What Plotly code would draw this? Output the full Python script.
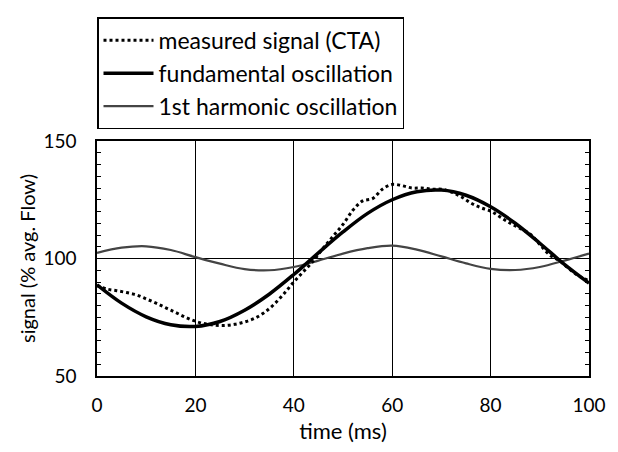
import plotly.graph_objects as go

# time axis (ms)
t_fit = [0, 5, 10, 15, 20, 25, 30, 35, 40, 45, 50, 55, 60, 65, 70, 75, 80, 85, 90, 95, 100]
fundamental = [88.8, 81.0, 75.2, 71.8, 71.1, 73.2, 78.0, 84.8, 93.2, 102.4, 111.3, 119.2, 125.0,
               128.4, 129.1, 126.9, 122.0, 115.0, 106.5, 97.5, 89.5]
harmonic = [102.4, 104.6, 105.2, 103.6, 100.6, 97.8, 95.5, 95.0, 96.4, 99.1, 102.1, 104.4, 105.5,
            103.8, 100.9, 97.9, 95.6, 95.1, 96.4, 99.1, 102.1]

t_meas = [0, 2, 4, 6, 8, 10, 12, 14, 16, 18, 20, 22, 24, 26, 28, 30, 32, 34, 36, 38, 40, 42, 44, 46,
          48, 50, 52, 54, 56, 58, 60, 62, 64, 66, 68, 70, 72, 74, 76, 78, 80, 82, 84, 86, 88, 90,
          92, 94, 96, 98, 100]
measured = [88.5, 87.0, 86.3, 85.5, 84.5, 82.8, 81.0, 79.0, 77.0, 75.0, 73.3, 72.2, 71.6, 71.5,
            72.0, 73.0, 74.5, 77.0, 80.5, 85.0, 90.0, 94.5, 99.0, 104.5, 109.5, 114.5, 120.5,
            124.5, 125.5, 129.5, 131.5, 131.0, 130.0, 130.0, 129.5, 129.5, 128.3, 126.3, 123.6,
            121.6, 120.2, 117.6, 115.0, 112.8, 110.5, 106.0, 101.5, 99.0, 95.5, 92.5, 90.5]

names = ["measured signal (CTA)", "fundamental oscillation", "1st harmonic oscillation"]
x_ticks = [0, 20, 40, 60, 80, 100]
y_ticks = [50, 100, 150]

FONT = "Lato"

fig = go.Figure()
fig.add_trace(go.Scatter(x=t_fit, y=harmonic, mode="lines", name=names[2], legendgroup="c",
                         line=dict(color="#444444", width=2.2, shape="spline"), legendrank=3))
fig.add_trace(go.Scatter(x=t_fit, y=fundamental, mode="lines", name=names[1], legendgroup="b",
                         line=dict(color="black", width=3.5, shape="spline"), legendrank=2))
fig.add_trace(go.Scatter(x=t_meas, y=measured, mode="lines", name=names[0], legendgroup="a",
                         line=dict(color="black", width=3, dash="dot", shape="spline"), legendrank=1))

fig.update_layout(
    width=618, height=452,
    margin=dict(l=97, r=21, t=141, b=62),
    paper_bgcolor="white", plot_bgcolor="white",
    font=dict(family=FONT, size=20, color="black"),
    showlegend=True,
    legend=dict(x=0, y=1.526, xanchor="left", yanchor="top", xref="paper", yref="paper",
                bordercolor="black", borderwidth=1.5, bgcolor="white",
                font=dict(family=FONT, size=23, color="black"),
                itemwidth=50, tracegroupgap=7, traceorder="normal"),
    xaxis=dict(range=[0, 100], tickvals=x_ticks, ticktext=[str(v) for v in x_ticks],
               showgrid=True, gridcolor="black", gridwidth=1, ticks="",
               showline=True, linecolor="black", linewidth=1.5, mirror=True, zeroline=False,
               ticklabeloverflow="allow", ticklabelstandoff=11,
               title=dict(text="time (ms)", font=dict(size=22), standoff=9),
               tickfont=dict(size=19)),
    yaxis=dict(range=[50, 150], tickvals=y_ticks, ticktext=[str(v) for v in y_ticks],
               showgrid=True, gridcolor="black", gridwidth=1,
               ticks="inside", ticklen=4, tickcolor="black",
               minor=dict(dtick=5, ticks="inside", ticklen=4, tickcolor="black", showgrid=False),
               showline=True, linecolor="black", linewidth=1.5, mirror="ticks", zeroline=False,
               ticklabelstandoff=15,
               title=dict(text="signal (% avg. Flow)", font=dict(size=20), standoff=2),
               tickfont=dict(size=19)),
)

fig.write_html("out.html", config={"displayModeBar": False},
               post_script="document.body.style.margin='0';")
